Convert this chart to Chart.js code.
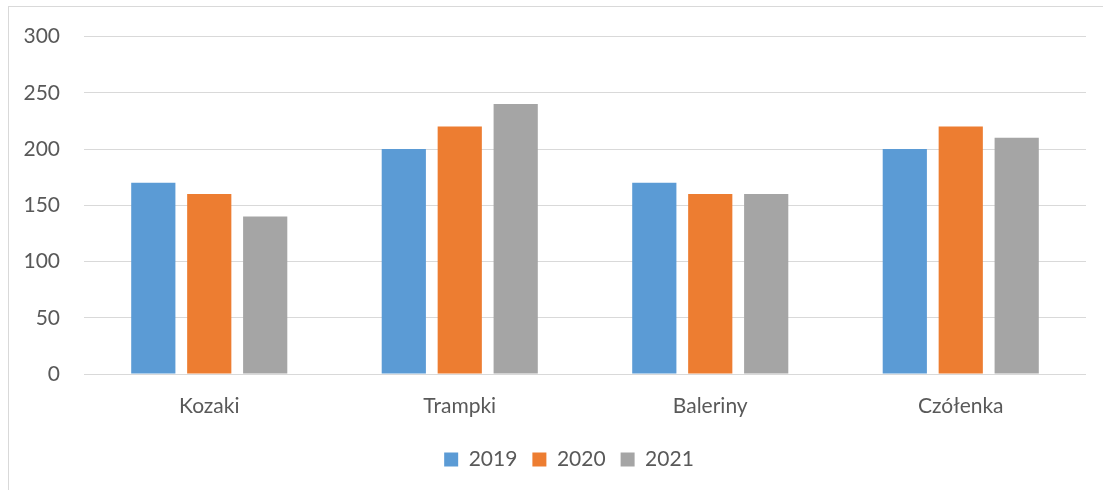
<!DOCTYPE html>
<html lang="pl">
<head>
<meta charset="UTF-8">
<title>Obuwie</title>
<script src="https://cdn.jsdelivr.net/npm/chart.js@4"></script>
<style>
  body { margin: 0; background: #fff; }
  #wrap { position: relative; width: 1103px; height: 490px; overflow: hidden; }
  #frame { position: absolute; left: 8px; top: 6px; width: 1200px; height: 600px; border: 1px solid #d9d9d9; }
  canvas { position: absolute; left: 0; top: 0; }
</style>
</head>
<body>
<div id="wrap">
  <div id="frame"></div>
  <canvas id="chart" width="1103" height="490"></canvas>
</div>
<script>
const categories = ['Kozaki', 'Trampki', 'Baleriny', 'Czółenka'];
const years = ['2019', '2020', '2021'];
const values2019 = [170, 200, 170, 200];
const values2020 = [160, 220, 160, 220];
const values2021 = [140, 240, 160, 210];
const colors = ['#5b9bd5', '#ed7d31', '#a5a5a5'];
const yTicks = [0, 50, 100, 150, 200, 250, 300];

const font = "Lato, 'Open Sans', sans-serif";

// the original legend sits a bit right of the canvas centre
const shiftLegend = {
  id: 'shiftLegend',
  afterLayout(chart) {
    chart.legend.left += 26;
    chart.legend.right += 26;
  }
};

new Chart(document.getElementById('chart'), {
  type: 'bar',
  data: {
    labels: categories,
    datasets: [values2019, values2020, values2021].map((v, i) => ({
      label: years[i],
      data: v,
      backgroundColor: colors[i],
      barPercentage: 0.79,
      categoryPercentage: 0.67
    }))
  },
  options: {
    responsive: false,
    animation: false,
    layout: { padding: { top: 36, right: 17, bottom: 10, left: 0 } },
    plugins: {
      title: { display: false },
      tooltip: { enabled: false },
      legend: {
        position: 'bottom',
        labels: { boxWidth: 14, boxHeight: 14, padding: 15, color: '#595959', font: { family: font, size: 21 } }
      }
    },
    scales: {
      x: {
        grid: { display: false, drawTicks: false },
        border: { display: false },
        ticks: { padding: 20, color: '#595959', font: { family: font, size: 21 } },
        afterFit: s => { s.height = 60; }
      },
      y: {
        min: 0, max: 300,
        afterBuildTicks: s => { s.ticks = yTicks.map(v => ({ value: v })); },
        grid: { color: '#d9d9d9', lineWidth: 1, drawTicks: false },
        border: { display: false },
        ticks: { padding: 24, color: '#595959', font: { family: font, size: 21 } },
        afterFit: s => { s.width = 84; }
      }
    }
  },
  plugins: [shiftLegend]
});
</script>
</body>
</html>
